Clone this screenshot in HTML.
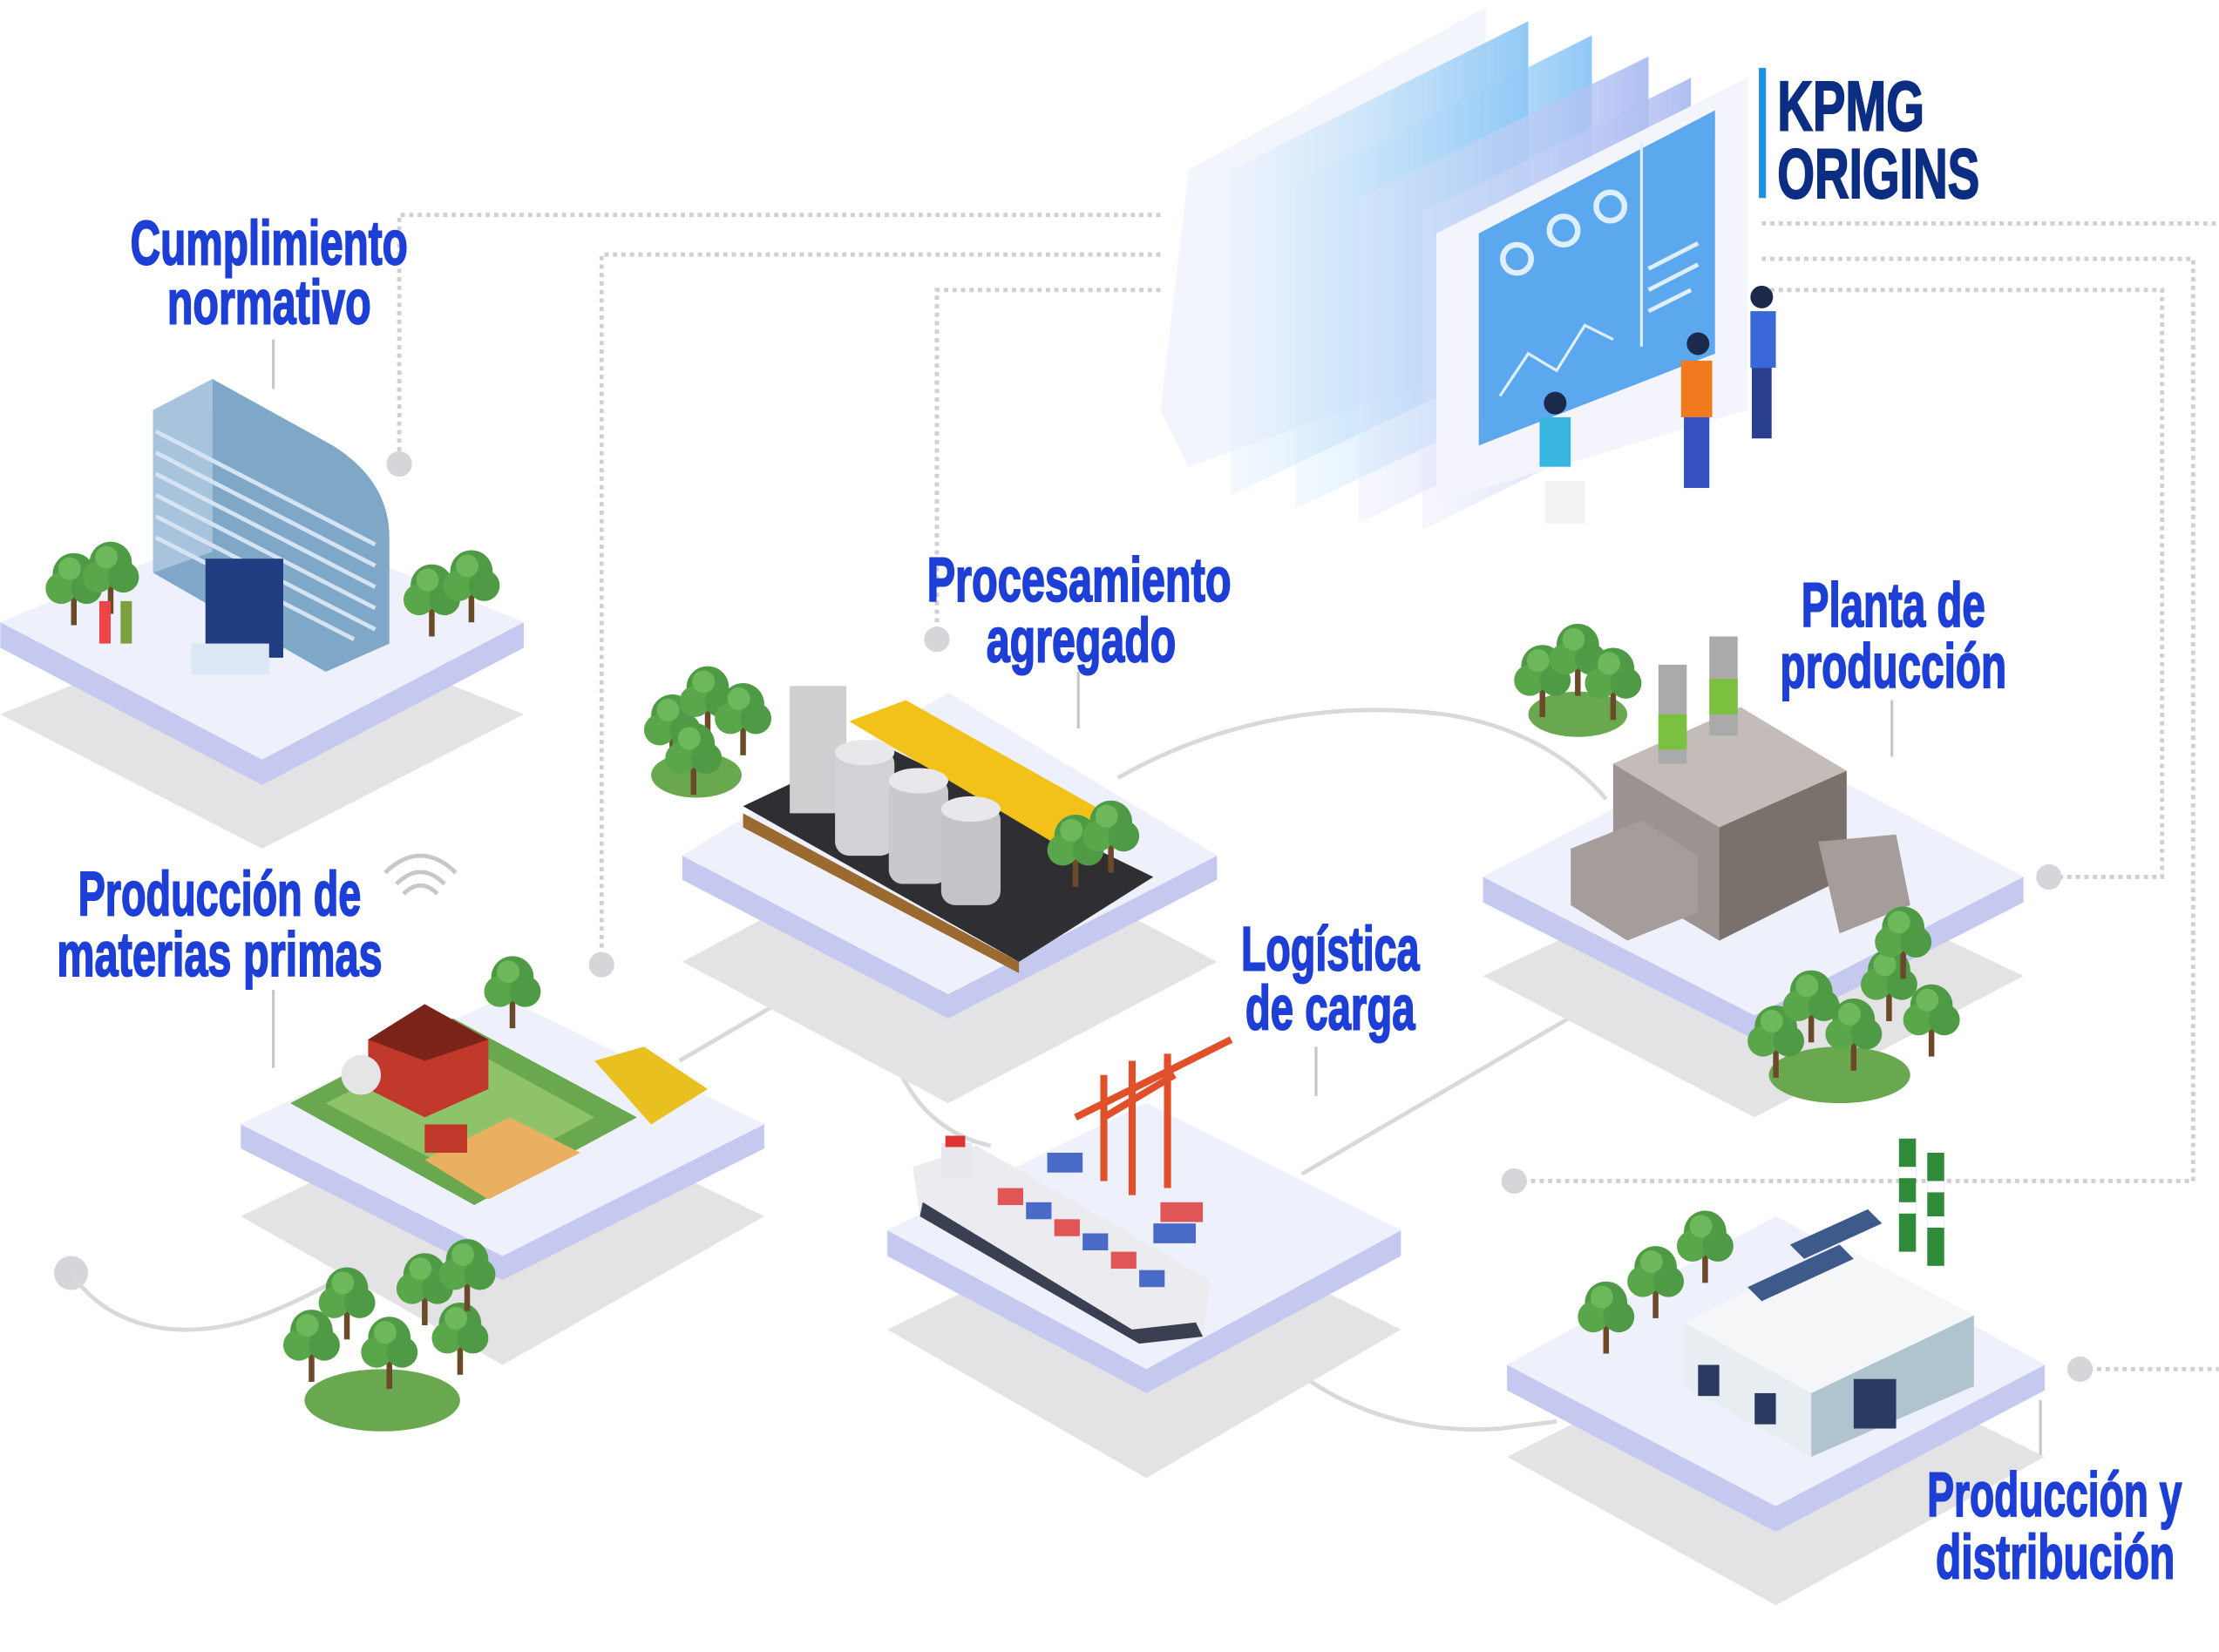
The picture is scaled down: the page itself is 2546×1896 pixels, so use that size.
<!DOCTYPE html>
<html><head><meta charset="utf-8"><style>
html,body{margin:0;padding:0;background:#fff;}
svg{display:block}
text{font-family:"Liberation Sans",sans-serif;font-weight:bold;}
.lbl{fill:#1d3fd6;font-size:44px;stroke:#1d3fd6;stroke-width:1.2;}
.dot{stroke:#cfcfd4;stroke-width:3;stroke-dasharray:3 3;fill:none}
.sol{stroke:#d9d9dc;stroke-width:3;fill:none}
.lead{stroke:#c8c8cc;stroke-width:2;fill:none}
</style></head><body>
<svg width="2546" height="1896" viewBox="0 0 1568 1168" xmlns="http://www.w3.org/2000/svg">
<defs>
<g id="tree"><rect x="-2" y="0" width="4" height="22" fill="#6b4a2a"/><circle cx="0" cy="-14" r="15" fill="#4f9a45"/><circle cx="-9" cy="-4" r="11" fill="#5aa64a"/><circle cx="9" cy="-4" r="11" fill="#4f9a45"/><circle cx="-3" cy="-18" r="8" fill="#6cb85a"/></g>
<linearGradient id="pg" x1="0" y1="0" x2="1" y2="0"><stop offset="0" stop-color="#d8ecfc" stop-opacity="0.3"/><stop offset="1" stop-color="#7dbff3" stop-opacity="0.85"/></linearGradient>
<linearGradient id="pg2" x1="0" y1="0" x2="1" y2="0"><stop offset="0" stop-color="#e2e6fa" stop-opacity="0.3"/><stop offset="1" stop-color="#a7b8f0" stop-opacity="0.9"/></linearGradient>
</defs>

<path class="dot" d="M820 152 H282 V326"/>
<path class="dot" d="M820 180 H425 V680"/>
<path class="dot" d="M820 205 H662 V450"/>
<path class="dot" d="M1245 158 H1568"/>
<path class="dot" d="M1245 183 H1550 V835 H1072"/>
<path class="dot" d="M1245 205 H1528 V620 H1450"/>
<path class="dot" d="M1470 968 H1568"/>
<circle cx="282" cy="328" r="9" fill="#d6d6da"/>
<circle cx="425" cy="682" r="9" fill="#d6d6da"/>
<circle cx="662" cy="452" r="9" fill="#d6d6da"/>
<circle cx="1070" cy="835" r="9" fill="#d6d6da"/>
<circle cx="1448" cy="620" r="9" fill="#d6d6da"/>
<circle cx="1470" cy="968" r="9" fill="#d6d6da"/>
<circle cx="50" cy="900" r="12" fill="#d6d6da"/>

<path class="sol" d="M50 900 C70 930 110 950 170 935 C220 920 260 890 300 870"/>
<path class="sol" d="M480 750 L600 680"/>
<path class="sol" d="M625 690 C620 750 650 800 700 810"/>
<path class="sol" d="M790 550 C860 510 940 495 1020 505 C1070 512 1110 535 1135 565"/>
<path class="sol" d="M920 830 L1160 690"/>
<path class="sol" d="M890 945 C930 990 990 1015 1060 1010 L1100 1005"/>

<path class="lead" d="M193 240 V275 M762 475 V515 M1337 495 V535 M193 700 V755 M930 740 V775 M1442 990 V1030"/>

<polygon points="0,505 185,430 370,505 185,600" fill="#e3e3e5"/>
<polygon points="0,440 185,365 370,440 370,458 185,555 0,458" fill="#c5c9f0"/>
<polygon points="0,440 185,365 370,440 185,537" fill="#eef0fb"/>
<polygon points="170,860 355,770 540,860 355,965" fill="#e3e3e5"/>
<polygon points="170,795 355,705 540,795 540,812 355,905 170,812" fill="#c5c9f0"/>
<polygon points="170,795 355,705 540,795 355,888" fill="#eef0fb"/>
<polygon points="482,680 670,580 860,680 670,780" fill="#e3e3e5"/>
<polygon points="482,605 670,490 860,605 860,622 670,720 482,622" fill="#c5c9f0"/>
<polygon points="482,605 670,490 860,605 670,703" fill="#eef0fb"/>
<polygon points="627,940 810,850 990,940 810,1045" fill="#e3e3e5"/>
<polygon points="627,870 810,780 990,870 990,888 810,985 627,888" fill="#c5c9f0"/>
<polygon points="627,870 810,780 990,870 810,968" fill="#eef0fb"/>
<polygon points="1048,690 1240,600 1430,690 1240,790" fill="#e3e3e5"/>
<polygon points="1048,620 1240,520 1430,620 1430,638 1240,735 1048,638" fill="#c5c9f0"/>
<polygon points="1048,620 1240,520 1430,620 1240,718" fill="#eef0fb"/>
<polygon points="1065,1030 1255,935 1445,1030 1255,1135" fill="#e3e3e5"/>
<polygon points="1065,965 1255,860 1445,965 1445,983 1255,1083 1065,983" fill="#c5c9f0"/>
<polygon points="1065,965 1255,860 1445,965 1255,1065" fill="#eef0fb"/>

<!-- screens -->
<polygon points="820,290 840,120 1050,5 1050,255 840,330" fill="#eef1fb" opacity="0.7"/>
<polygon points="870,120 1080,15 1080,250 870,350" fill="url(#pg)"/>
<polygon points="915,130 1125,25 1125,260 915,360" fill="url(#pg)"/>
<polygon points="960,140 1165,40 1165,270 960,370" fill="url(#pg2)"/>
<polygon points="1005,150 1195,55 1195,280 1005,375" fill="url(#pg2)"/>
<polygon points="1015,165 1235,55 1235,290 1015,355" fill="#f4f5fc"/>
<polygon points="1045,165 1212,78 1212,250 1045,315" fill="#5ba8ef"/>
<circle cx="1072" cy="183" r="10" fill="none" stroke="#dfefff" stroke-width="4"/>
<circle cx="1105" cy="163" r="10" fill="none" stroke="#dfefff" stroke-width="4"/>
<circle cx="1138" cy="146" r="10" fill="none" stroke="#dfefff" stroke-width="4"/>
<path d="M1060 280 L1080 250 L1100 262 L1120 230 L1140 240" stroke="#dfefff" stroke-width="2" fill="none"/>
<path d="M1165 190 L1200 172 M1165 205 L1200 187 M1165 220 L1195 205" stroke="#dfefff" stroke-width="3"/>
<path d="M1160 100 V245" stroke="#dfefff" stroke-width="2"/>
<rect x="1088" y="295" width="22" height="35" fill="#38b6e0"/><circle cx="1099" cy="285" r="8" fill="#1b2a4a"/>
<rect x="1092" y="340" width="28" height="30" fill="#f2f2f2"/>
<rect x="1188" y="255" width="22" height="40" fill="#f27a1e"/><circle cx="1200" cy="243" r="8" fill="#1b2a4a"/>
<rect x="1190" y="295" width="18" height="50" fill="#3550c0"/>
<rect x="1237" y="220" width="18" height="40" fill="#3a68d8"/><circle cx="1245" cy="210" r="8" fill="#1b2a4a"/>
<rect x="1238" y="260" width="14" height="50" fill="#2a3f90"/>

<rect x="1243" y="48" width="5" height="92" fill="#1e90e0"/>
<text x="1256" y="92" font-size="50" fill="#0b2d82" stroke="#0b2d82" stroke-width="1.2" textLength="104" lengthAdjust="spacingAndGlyphs">KPMG</text>
<text x="1256" y="140" font-size="50" fill="#0b2d82" stroke="#0b2d82" stroke-width="1.2" textLength="143" lengthAdjust="spacingAndGlyphs">ORIGINS</text>

<!-- Building 1 -->
<path d="M108 290 L150 268 L235 315 Q275 340 275 380 L275 455 L230 475 L108 405 Z" fill="#7fa7c8"/>
<polygon points="108,290 150,268 150,390 108,405" fill="#a8c4dc"/>
<g stroke="#d5e4f2" stroke-width="3">
<path d="M110 305 L265 385 M110 320 L265 400 M110 335 L265 415 M110 350 L265 430 M110 365 L265 445 M110 380 L250 452"/>
</g>
<rect x="145" y="395" width="55" height="70" fill="#1f3d80"/>
<rect x="135" y="455" width="55" height="22" fill="#dbe7f5"/>
<use href="#tree" x="52" y="420"/><use href="#tree" x="78" y="412"/><use href="#tree" x="305" y="428"/><use href="#tree" x="333" y="418"/>
<rect x="70" y="425" width="8" height="30" fill="#e44"/><rect x="85" y="425" width="8" height="30" fill="#7aa040"/>

<!-- Farm -->
<polygon points="205,780 320,720 450,790 335,852" fill="#6aa84f"/>
<polygon points="230,780 320,735 420,790 335,835" fill="#8fc36a"/>
<polygon points="300,820 360,790 410,815 345,848" fill="#e8b060"/>
<polygon points="260,735 300,710 345,735 345,770 300,790 260,770" fill="#c0392b"/>
<polygon points="260,735 300,710 345,735 300,750" fill="#7a2318"/>
<rect x="300" y="795" width="30" height="20" fill="#c0392b"/>
<circle cx="255" cy="760" r="14" fill="#e5e5e5"/>
<polygon points="420,750 455,740 500,770 460,795" fill="#e8c020"/>
<use href="#tree" x="362" y="705"/>

<!-- Processing -->
<polygon points="525,570 620,525 815,620 720,680" fill="#2f2f33"/>
<polygon points="525,575 720,680 720,688 525,585" fill="#9a6a30"/>
<polygon points="600,510 640,495 800,585 760,605" fill="#f2c21a"/>
<rect x="558" y="485" width="40" height="90" fill="#cfcfd2"/>
<rect x="590" y="530" width="42" height="75" rx="10" fill="#d2d2d6"/><ellipse cx="611" cy="532" rx="21" ry="9" fill="#e8e8ea"/>
<rect x="628" y="550" width="42" height="75" rx="10" fill="#c9c9cd"/><ellipse cx="649" cy="552" rx="21" ry="9" fill="#e8e8ea"/>
<rect x="665" y="570" width="42" height="70" rx="10" fill="#c4c4c8"/><ellipse cx="686" cy="572" rx="21" ry="9" fill="#e8e8ea"/>
<ellipse cx="492" cy="548" rx="32" ry="16" fill="#6aa84f"/>
<use href="#tree" x="475" y="520"/><use href="#tree" x="500" y="500"/><use href="#tree" x="525" y="512"/><use href="#tree" x="490" y="540"/>
<use href="#tree" x="760" y="605"/><use href="#tree" x="785" y="595"/>

<!-- Ship & crane -->
<polygon points="645,825 690,810 855,905 850,945 805,950 650,860" fill="#ececf0"/>
<polygon points="650,860 805,950 850,945 845,935 800,940 652,850" fill="#3a3f52"/>
<rect x="665" y="808" width="22" height="25" fill="#e8e8ee"/><rect x="668" y="803" width="14" height="8" fill="#d33"/>
<g fill="#e05555"><rect x="705" y="840" width="18" height="12"/><rect x="745" y="862" width="18" height="12"/><rect x="785" y="885" width="18" height="12"/></g>
<g fill="#4a6ac8"><rect x="725" y="850" width="18" height="12"/><rect x="765" y="872" width="18" height="12"/><rect x="805" y="898" width="18" height="12"/></g>
<g stroke="#e0502a" stroke-width="5" fill="none">
<path d="M780 760 V835 M800 750 V845 M825 745 V840 M760 790 L870 735 M780 790 L830 760"/>
</g>
<g fill="#e05555"><rect x="820" y="850" width="30" height="14"/></g><g fill="#4a6ac8"><rect x="815" y="865" width="30" height="14"/><rect x="740" y="815" width="25" height="14"/></g>

<!-- Plant -->
<ellipse cx="1115" cy="505" rx="35" ry="16" fill="#6aa84f"/>
<use href="#tree" x="1090" y="485"/><use href="#tree" x="1115" y="470"/><use href="#tree" x="1140" y="487"/>
<polygon points="1140,540 1230,500 1305,545 1305,620 1215,665 1140,620" fill="#9c9290"/>
<polygon points="1140,540 1230,500 1305,545 1215,585" fill="#c4bcb8"/>
<polygon points="1215,585 1305,545 1305,620 1215,665" fill="#7a706c"/>
<rect x="1172" y="470" width="20" height="70" fill="#aaa"/><rect x="1172" y="505" width="20" height="25" fill="#7cc040"/>
<rect x="1208" y="450" width="20" height="70" fill="#aaa"/><rect x="1208" y="480" width="20" height="25" fill="#7cc040"/>
<polygon points="1110,600 1160,580 1200,605 1200,645 1150,665 1110,640" fill="#a59d9a"/>
<polygon points="1285,595 1340,590 1350,640 1300,660" fill="#a59d9a"/>
<ellipse cx="1300" cy="760" rx="50" ry="20" fill="#6aa84f"/>
<use href="#tree" x="1255" y="740"/><use href="#tree" x="1280" y="715"/><use href="#tree" x="1310" y="735"/><use href="#tree" x="1335" y="700"/><use href="#tree" x="1365" y="725"/><use href="#tree" x="1345" y="670"/>

<!-- Distribution -->
<polygon points="1190,935 1300,880 1395,930 1395,980 1280,1030 1190,980" fill="#e8edf2"/>
<polygon points="1280,980 1395,930 1395,980 1280,1030" fill="#b0c4d0"/>
<polygon points="1190,935 1300,880 1395,930 1280,985" fill="#f4f6f8"/>
<g fill="#3e5a8a"><polygon points="1235,910 1300,880 1310,890 1245,920"/><polygon points="1265,880 1320,855 1330,865 1275,890"/></g>
<rect x="1200" y="965" width="15" height="22" fill="#2a3a60"/><rect x="1240" y="985" width="15" height="22" fill="#2a3a60"/><rect x="1310" y="975" width="30" height="35" fill="#2a3a60"/>
<rect x="1342" y="805" width="12" height="80" fill="#2f8a3a"/><rect x="1362" y="815" width="12" height="80" fill="#2f8a3a"/>
<g fill="#fff"><rect x="1342" y="825" width="12" height="8"/><rect x="1342" y="850" width="12" height="8"/><rect x="1362" y="835" width="12" height="8"/><rect x="1362" y="860" width="12" height="8"/></g>
<use href="#tree" x="1135" y="935"/><use href="#tree" x="1170" y="910"/><use href="#tree" x="1205" y="885"/>
<ellipse cx="270" cy="990" rx="55" ry="22" fill="#6aa84f"/>
<use href="#tree" x="220" y="955"/><use href="#tree" x="245" y="925"/><use href="#tree" x="275" y="960"/><use href="#tree" x="300" y="915"/><use href="#tree" x="325" y="950"/><use href="#tree" x="330" y="905"/>
<path d="M280 625 Q297 608 314 625 M285 632 Q297 620 309 632 M272 617 Q297 593 322 617" stroke="#c8c8cc" stroke-width="3" fill="none"/>

<text class="lbl" x="92" y="187" textLength="196" lengthAdjust="spacingAndGlyphs">Cumplimiento</text>
<text class="lbl" x="118" y="229" textLength="144" lengthAdjust="spacingAndGlyphs">normativo</text>
<text class="lbl" x="655" y="425" textLength="215" lengthAdjust="spacingAndGlyphs">Procesamiento</text>
<text class="lbl" x="697" y="468" textLength="134" lengthAdjust="spacingAndGlyphs">agregado</text>
<text class="lbl" x="1273" y="443" textLength="130" lengthAdjust="spacingAndGlyphs">Planta de</text>
<text class="lbl" x="1258" y="486" textLength="160" lengthAdjust="spacingAndGlyphs">producción</text>
<text class="lbl" x="55" y="647" textLength="200" lengthAdjust="spacingAndGlyphs">Producción de</text>
<text class="lbl" x="40" y="690" textLength="230" lengthAdjust="spacingAndGlyphs">materias primas</text>
<text class="lbl" x="877" y="686" textLength="126" lengthAdjust="spacingAndGlyphs">Logística</text>
<text class="lbl" x="880" y="728" textLength="120" lengthAdjust="spacingAndGlyphs">de carga</text>
<text class="lbl" x="1362" y="1072" textLength="180" lengthAdjust="spacingAndGlyphs">Producción y</text>
<text class="lbl" x="1368" y="1116" textLength="169" lengthAdjust="spacingAndGlyphs">distribución</text>
</svg>
</body></html>
